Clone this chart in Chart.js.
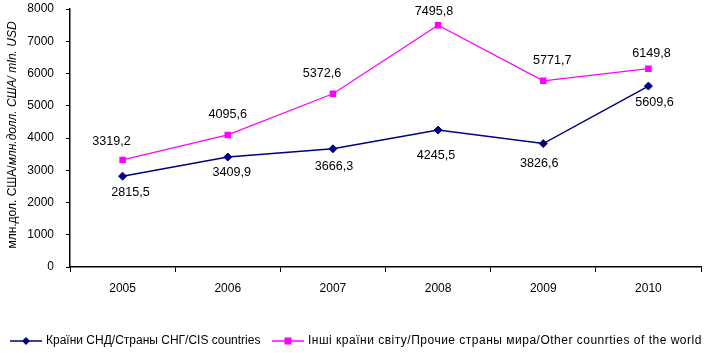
<!DOCTYPE html>
<html>
<head>
<meta charset="utf-8">
<script src="https://cdn.jsdelivr.net/npm/chart.js@4"></script>
<style>
  html, body { margin: 0; padding: 0; background: #fff; }
  #wrap { width: 706px; height: 353px; }
</style>
</head>
<body>
<div id="wrap"><canvas id="canvas" width="706" height="353"></canvas></div>
<script>
// дані
const years = ['2005', '2006', '2007', '2008', '2009', '2010'];
const cisValues = [2815.5, 3409.9, 3666.3, 4245.5, 3826.6, 5609.6];
const otherValues = [3319.2, 4095.6, 5372.6, 7495.8, 5771.7, 6149.8];
const yTicks = [0, 1000, 2000, 3000, 4000, 5000, 6000, 7000, 8000];

const cisLabel = 'Країни СНД/Страны СНГ/CIS countries';
const otherLabel = 'Інші країни світу/Прочие страны мира/Other counrties of the world';

// зсув підписів відносно точки (px), як в оригіналі
const cisLabelShift = [[8, 16], [4, 15], [1, 18], [-2, 25], [-4, 20], [6, 16]];
const otherLabelShift = [[-11, -18], [0, -20], [-11, -20], [-4, -14], [9, -20], [3, -15]];

const FONT = '"Liberation Sans", Arial, sans-serif';
const BLUE = '#000080';
const PINK = '#FF00FF';

function fmt(v) {
    return v.toFixed(1).replace('.', ',');
}

// підписи значень
const valueLabels = {
    id: 'valueLabels',
    afterDatasetsDraw(chart) {
        const ctx = chart.ctx;
        ctx.save();
        ctx.font = '12.6px ' + FONT;
        ctx.fillStyle = '#000';
        ctx.textAlign = 'center';
        ctx.textBaseline = 'middle';
        chart.data.datasets.forEach((ds, i) => {
            const meta = chart.getDatasetMeta(i);
            const shifts = i === 0 ? cisLabelShift : otherLabelShift;
            meta.data.forEach((pt, j) => {
                ctx.fillText(fmt(ds.data[j]), pt.x + shifts[j][0], pt.y + shifts[j][1]);
            });
        });
        ctx.restore();
    }
};

// назва осі Y (частина курсивом) і легенда знизу
const extras = {
    id: 'extras',
    afterDraw(chart) {
        const ctx = chart.ctx;
        ctx.save();

        // вісь Y
        const p1 = 'млн.дол. США/';
        const p2 = 'млн.долл. США/ mln. USD';
        ctx.font = '12px ' + FONT;
        const w1 = ctx.measureText(p1).width;
        ctx.font = 'italic 12px ' + FONT;
        const w2 = ctx.measureText(p2).width;
        ctx.translate(13, 135);
        ctx.rotate(-Math.PI / 2);
        ctx.fillStyle = '#000';
        ctx.textBaseline = 'middle';
        ctx.textAlign = 'left';
        let x0 = -(w1 + w2) / 2;
        ctx.font = '12px ' + FONT;
        ctx.fillText(p1, x0, 0);
        ctx.font = 'italic 12px ' + FONT;
        ctx.fillText(p2, x0 + w1, 0);
        ctx.restore();

        // легенда
        ctx.save();
        const ly = 341;
        ctx.font = '12px ' + FONT;
        ctx.textBaseline = 'middle';
        ctx.textAlign = 'left';
        const items = [
            { x: 10, color: BLUE, style: 'diamond', text: cisLabel, spacing: '0px' },
            { x: 272, color: PINK, style: 'square', text: otherLabel, spacing: '0.5px' }
        ];
        items.forEach(it => {
            ctx.strokeStyle = it.color;
            ctx.lineWidth = 1.5;
            ctx.beginPath();
            ctx.moveTo(it.x, ly);
            ctx.lineTo(it.x + 32, ly);
            ctx.stroke();
            const cx = it.x + 16;
            ctx.fillStyle = it.color;
            ctx.beginPath();
            if (it.style === 'diamond') {
                ctx.moveTo(cx - 4, ly);
                ctx.lineTo(cx, ly - 4);
                ctx.lineTo(cx + 4, ly);
                ctx.lineTo(cx, ly + 4);
                ctx.closePath();
            } else {
                ctx.rect(cx - 3.5, ly - 3.5, 7, 7);
            }
            ctx.fill();
            ctx.fillStyle = '#000';
            ctx.letterSpacing = it.spacing;
            ctx.fillText(it.text, it.x + 36, ly);
        });
        ctx.restore();
    }
};

const config = {
    type: 'line',
    data: {
        labels: years,
        datasets: [
            {
                label: cisLabel,
                data: cisValues,
                borderColor: BLUE,
                backgroundColor: BLUE,
                borderWidth: 1.5,
                tension: 0,
                pointStyle: 'rectRot',
                pointRadius: 4,
                pointBorderWidth: 1,
                pointBackgroundColor: BLUE,
                pointBorderColor: BLUE
            },
            {
                label: otherLabel,
                data: otherValues,
                borderColor: PINK,
                backgroundColor: PINK,
                borderWidth: 1.2,
                tension: 0,
                pointStyle: 'rect',
                pointRadius: 4.6,
                pointBorderWidth: 0,
                pointBackgroundColor: PINK,
                pointBorderColor: PINK
            }
        ]
    },
    options: {
        responsive: false,
        animation: false,
        devicePixelRatio: 1,
        layout: { padding: { top: 9, right: 4, left: 0, bottom: 0 } },
        plugins: {
            legend: { display: false },
            title: { display: false },
            tooltip: { enabled: false }
        },
        scales: {
            x: {
                offset: true,
                border: { display: true, color: '#000', width: 1.5 },
                grid: { display: true, offset: true, drawOnChartArea: false, color: '#000', tickLength: 5, lineWidth: 1 },
                ticks: { color: '#000', font: { family: FONT, size: 12 }, padding: 9, maxRotation: 0 },
                afterFit(scale) { scale.height = 86; scale.paddingLeft = 0; scale.paddingRight = 0; }
            },
            y: {
                min: 0,
                max: 8000,
                border: { display: true, color: '#000', width: 1.5 },
                grid: { display: true, drawOnChartArea: false, color: '#000', tickLength: 4, lineWidth: 1 },
                ticks: {
                    color: '#000',
                    font: { family: FONT, size: 12 },
                    padding: 12,
                    stepSize: 1000,
                    callback: (v) => yTicks.includes(v) ? String(v) : ''
                },
                afterFit(scale) { scale.width = 70; scale.paddingTop = 0; scale.paddingBottom = 0; }
            }
        }
    },
    plugins: [valueLabels, extras]
};

new Chart(document.getElementById('canvas').getContext('2d'), config);
</script>
</body>
</html>
